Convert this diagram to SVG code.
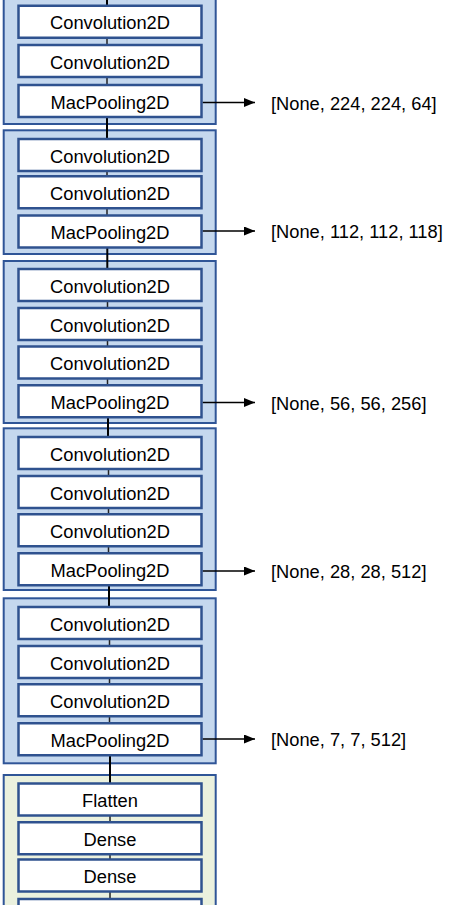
<svg xmlns="http://www.w3.org/2000/svg" width="451" height="905" viewBox="0 0 451 905">
<style>
.frame{fill:#C5D8EE;stroke:#2F5597;stroke-width:2}
.frame.green{fill:#EBF1DE}
.box{fill:#FFFFFF;stroke:#2F528F;stroke-width:2.5}
.t{font-family:"Liberation Sans",Arial,sans-serif;font-size:18.3px;fill:#000;text-anchor:middle}
.lbl{font-family:"Liberation Sans",Arial,sans-serif;font-size:18.3px;fill:#000}
.link{stroke:#000;stroke-width:2;fill:none}
.inner{stroke:#222;stroke-width:1.5;fill:none}
.arrow{stroke:#000;stroke-width:1.3;fill:none;marker-end:url(#ah)}
</style>
<defs>
<marker id="ah" markerUnits="userSpaceOnUse" markerWidth="12" markerHeight="10" refX="11" refY="4.5" orient="auto">
<path d="M0,0 L11,4.5 L0,9 Z" fill="#000"/>
</marker>
</defs>
<rect width="451" height="905" fill="#FFFFFF"/>
<g id="frames">
<rect id="block1" class="frame" x="3.7" y="-10" width="212" height="134"/>
<rect id="block2" class="frame" x="3.7" y="130.3" width="212" height="123.7"/>
<rect id="block3" class="frame" x="3.7" y="261" width="212" height="162"/>
<rect id="block4" class="frame" x="3.7" y="428.3" width="212" height="161.7"/>
<rect id="block5" class="frame" x="3.7" y="598.3" width="212" height="165"/>
<rect id="block6" class="frame green" x="3.7" y="775" width="212" height="200"/>
</g>
<g id="connectors">
<line class="link" x1="107" y1="0" x2="107" y2="8"/>
<line class="inner" x1="107" y1="37" x2="107" y2="46"/>
<line class="inner" x1="107" y1="76" x2="107" y2="86"/>
<line class="link" x1="107" y1="116" x2="107" y2="140"/>
<line class="inner" x1="107" y1="170" x2="107" y2="177"/>
<line class="inner" x1="107" y1="207" x2="107" y2="216"/>
<line class="link" x1="107.3" y1="246" x2="107.3" y2="270"/>
<line class="inner" x1="107.5" y1="300" x2="107.5" y2="309"/>
<line class="inner" x1="107.5" y1="339" x2="107.5" y2="347"/>
<line class="inner" x1="107.5" y1="377" x2="107.5" y2="386"/>
<line class="link" x1="108" y1="416" x2="108" y2="438"/>
<line class="inner" x1="108.5" y1="468" x2="108.5" y2="477"/>
<line class="inner" x1="108.5" y1="507" x2="108.5" y2="515"/>
<line class="inner" x1="108.5" y1="545" x2="108.5" y2="554"/>
<line class="link" x1="109" y1="584" x2="109" y2="608"/>
<line class="inner" x1="109.5" y1="638" x2="109.5" y2="647"/>
<line class="inner" x1="109.5" y1="677" x2="109.5" y2="685"/>
<line class="inner" x1="109.5" y1="715" x2="109.5" y2="724"/>
<line class="link" x1="110" y1="754" x2="110" y2="784"/>
<line class="inner" x1="110" y1="814" x2="110" y2="823"/>
<line class="inner" x1="110" y1="853" x2="110" y2="860"/>
<line class="inner" x1="110" y1="890" x2="110" y2="900"/>
<line class="arrow" x1="202.5" y1="102.5" x2="255" y2="102.5"/>
<line class="arrow" x1="202.5" y1="231" x2="255" y2="231"/>
<line class="arrow" x1="202.5" y1="402.5" x2="255" y2="402.5"/>
<line class="arrow" x1="202.5" y1="571" x2="255" y2="571"/>
<line class="arrow" x1="202.5" y1="739" x2="255" y2="739"/>
</g>
<g id="b1c1"><rect class="box" x="18.5" y="5.75" width="183" height="32"/><text class="t" x="110" y="29.25">Convolution2D</text></g>
<g id="b1c2"><rect class="box" x="18.5" y="45" width="183" height="32"/><text class="t" x="110" y="68.5">Convolution2D</text></g>
<g id="b1p"><rect class="box" x="18.5" y="85" width="183" height="32"/><text class="t" x="110" y="108.5">MacPooling2D</text></g>
<g id="b2c1"><rect class="box" x="18.5" y="139" width="183" height="32"/><text class="t" x="110" y="162.5">Convolution2D</text></g>
<g id="b2c2"><rect class="box" x="18.5" y="176.25" width="183" height="32"/><text class="t" x="110" y="199.75">Convolution2D</text></g>
<g id="b2p"><rect class="box" x="18.5" y="215.5" width="183" height="32"/><text class="t" x="110" y="239">MacPooling2D</text></g>
<g id="b3c1"><rect class="box" x="18.5" y="269" width="183" height="32"/><text class="t" x="110" y="292.5">Convolution2D</text></g>
<g id="b3c2"><rect class="box" x="18.5" y="308" width="183" height="32"/><text class="t" x="110" y="331.5">Convolution2D</text></g>
<g id="b3c3"><rect class="box" x="18.5" y="346.5" width="183" height="32"/><text class="t" x="110" y="370">Convolution2D</text></g>
<g id="b3p"><rect class="box" x="18.5" y="385.25" width="183" height="32"/><text class="t" x="110" y="408.75">MacPooling2D</text></g>
<g id="b4c1"><rect class="box" x="18.5" y="437" width="183" height="32"/><text class="t" x="110" y="460.5">Convolution2D</text></g>
<g id="b4c2"><rect class="box" x="18.5" y="476" width="183" height="32"/><text class="t" x="110" y="499.5">Convolution2D</text></g>
<g id="b4c3"><rect class="box" x="18.5" y="514.25" width="183" height="32"/><text class="t" x="110" y="537.75">Convolution2D</text></g>
<g id="b4p"><rect class="box" x="18.5" y="553.25" width="183" height="32"/><text class="t" x="110" y="576.75">MacPooling2D</text></g>
<g id="b5c1"><rect class="box" x="18.5" y="607" width="183" height="32"/><text class="t" x="110" y="630.5">Convolution2D</text></g>
<g id="b5c2"><rect class="box" x="18.5" y="646" width="183" height="32"/><text class="t" x="110" y="669.5">Convolution2D</text></g>
<g id="b5c3"><rect class="box" x="18.5" y="684.25" width="183" height="32"/><text class="t" x="110" y="707.75">Convolution2D</text></g>
<g id="b5p"><rect class="box" x="18.5" y="723.25" width="183" height="32"/><text class="t" x="110" y="746.75">MacPooling2D</text></g>
<g id="b6f"><rect class="box" x="18.5" y="783.5" width="183" height="32"/><text class="t" x="110" y="807">Flatten</text></g>
<g id="b6d1"><rect class="box" x="18.5" y="822.25" width="183" height="32"/><text class="t" x="110" y="845.75">Dense</text></g>
<g id="b6d2"><rect class="box" x="18.5" y="859.5" width="183" height="32"/><text class="t" x="110" y="883">Dense</text></g>
<g id="b6n"><rect class="box" x="18.5" y="899" width="183" height="32"/></g>
<g id="labels">
<text class="lbl" x="271" y="109.5">[None, 224, 224, 64]</text>
<text class="lbl" x="271" y="238">[None, 112, 112, 118]</text>
<text class="lbl" x="271" y="409.5">[None, 56, 56, 256]</text>
<text class="lbl" x="271" y="578">[None, 28, 28, 512]</text>
<text class="lbl" x="271" y="746">[None, 7, 7, 512]</text>
</g>
</svg>
